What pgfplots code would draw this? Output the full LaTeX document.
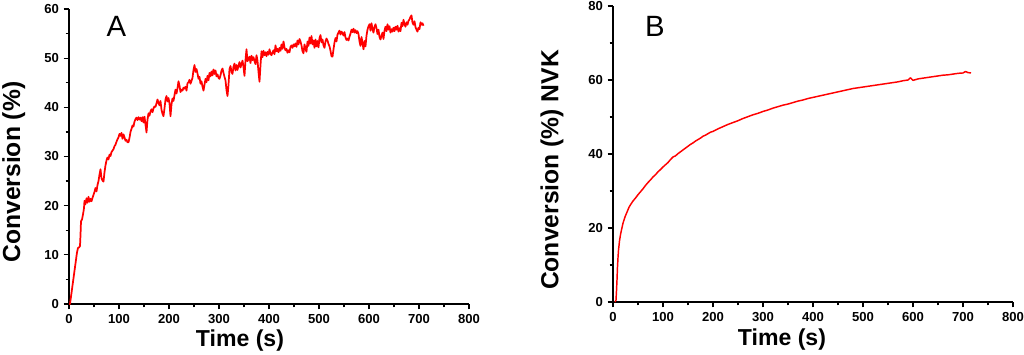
\documentclass[border=0pt]{standalone}
\usepackage{fontspec}
\setmainfont{Liberation Sans}
\usepackage{pgfplots}
\pgfplotsset{compat=1.18}
\usepackage{pgfplotstable}
\pgfplotstableread{
t v
0 0
2 0
4 1.5
6 3
8 4.5
10 6
12 7.5
14 9
16 10.5
18 11.4
20 11.5
22 11.8
23 14
24 16.8
26 17.2
28 18.2
30 19.5
31 21
33 20.3
35 21.5
37 20.6
39 21.8
41 20.8
43 21.4
45 20.9
47 21.6
49 22.2
51 22.8
53 23.6
55 22.9
57 24.2
59 25
61 26.3
63 27.4
65 25.6
67 25.1
69 24.9
71 26.8
73 28.2
75 29.2
77 29.8
79 29.4
81 30.4
83 30.1
85 30.9
87 31.2
89 31.5
91 32.1
93 32.4
95 33
97 33.5
99 33.9
101 34.6
103 34.2
105 34.8
107 33.6
109 34.5
111 33.9
113 33.2
115 33.4
117 32.9
119 32.9
121 33.8
123 35
125 35.6
127 36.3
129 36.1
131 37.1
133 37.6
135 37.9
137 37.4
139 38
141 37.5
143 37.9
145 37.2
147 38
149 36.9
151 38.1
153 36.5
155 34.9
157 37.5
159 38.8
161 38.3
163 39.2
165 39.6
167 39
169 39.8
171 40.2
173 40.1
175 40.8
177 41.6
179 40.9
181 40.4
183 41.3
185 39.5
187 38.7
189 38.2
191 39.8
193 41.6
195 42.3
197 41.2
199 41.9
201 40.8
203 38.2
205 40.6
207 41.8
209 41.3
211 42.5
213 43.6
215 42.8
217 43.9
219 45.3
221 44.4
223 43.1
225 43.6
227 43.4
229 44
231 43.8
233 44.2
235 43.4
237 44.9
239 45.1
241 45.6
243 44.8
245 45.4
247 46
249 47.6
251 48.6
253 47.2
255 47.8
257 46.9
259 45.8
261 46.2
263 44.8
265 45.3
267 44.2
269 43.4
271 44.6
273 45.8
275 45.1
277 46.4
279 45.5
281 47
283 46.3
285 47.3
287 46.5
289 47.7
291 46.8
293 47.5
295 46.3
297 46.7
299 46
301 45.8
303 46.5
305 47.5
307 47.9
309 47
311 46.2
313 45.5
315 43.5
317 42.3
319 44.6
321 47.8
323 48.4
325 47.2
327 46.8
329 48.3
331 48.9
333 47.5
335 48.6
337 47.6
339 48.5
341 49.2
343 48.1
345 48.8
347 49.5
349 48.2
351 46.4
353 49.6
355 51.8
357 49.4
359 49.8
361 50.3
363 49
365 50.5
367 49.6
369 50.2
371 49.4
373 48.8
375 50.6
377 49.5
379 47.2
381 45.2
383 48.6
385 51.4
387 50.2
389 51.5
391 50.6
393 51.2
395 50.4
397 51.3
399 50.7
401 51.8
403 50.9
405 50.6
407 51.2
409 51.6
411 50.8
413 52.6
415 51.4
417 51.9
419 51.2
421 52.1
423 51.5
425 52.8
427 51.9
429 53.4
431 52.2
433 51.6
435 51.9
437 51.1
439 51.6
441 51.2
443 52.3
445 52.6
447 52.1
449 52.8
451 52.4
453 53
455 52.3
457 53.6
459 52.8
461 53.9
463 53.4
465 52.6
467 51.4
469 51
471 52.8
473 51.9
475 51.3
477 53.4
479 52.5
481 54.2
483 53
485 54.5
487 52.8
489 53.6
491 52.1
493 53.8
495 52.4
497 53.5
499 52.2
501 54.1
503 54.7
505 53.2
507 53.8
509 52.6
511 52.1
513 53.4
515 54
517 53.6
519 52.9
521 52.4
523 51.5
525 50.4
527 50.3
529 51.8
531 53.2
533 54.1
535 53.4
537 54.8
539 55.2
541 55.6
543 54.8
545 55.4
547 55.1
549 54.6
551 55.3
553 54.2
555 53.7
557 54
559 53.6
561 54.4
563 55
565 55.8
567 55.3
569 56
571 55.2
573 55.7
575 55.1
577 55.5
579 54.9
581 53.4
583 52.5
585 54.3
587 53.1
589 51.8
591 53.5
593 52.4
595 54.6
597 55.8
599 56.5
601 56.9
603 55.6
605 57.1
607 55.9
609 55.2
611 56.4
613 56.9
615 56.1
617 54.9
619 55.8
621 54.3
623 53.8
625 54.6
627 55.2
629 53.9
631 55.6
633 56.4
635 55.5
637 56.9
639 55.8
641 56.5
643 55.2
645 55.9
647 55.4
649 56.2
651 55.5
653 56.4
655 55.8
657 56.6
659 55.4
661 56.1
663 55.5
665 57.2
667 56.5
669 57.8
671 56.9
673 56.4
675 57.3
677 56.8
679 57.6
681 57.9
683 58.4
685 58.7
687 57.2
689 56.8
691 57.5
693 56.3
695 55.8
697 55.4
699 56.2
701 55.9
703 57.3
705 56.8
707 57.1
709 56.6
}\dataA
\pgfplotstableread{
t v
4 0
6 0.5
7 3
8 6
9 9.5
10 12
11 14
13 16.5
15 18.2
17 19.5
20 21.3
24 23
28 24.3
32 25.6
36 26.5
40 27.3
45 28.1
50 29
55 29.8
60 30.6
65 31.5
70 32.3
75 33
80 33.8
85 34.4
90 35.2
95 35.8
100 36.5
105 37.1
110 37.7
115 38.5
120 39.2
125 39.5
130 40.1
135 40.6
140 41.1
145 41.6
150 42.1
155 42.6
160 43
165 43.5
170 43.9
175 44.3
180 44.8
185 45.1
190 45.5
195 45.9
200 46.1
210 46.8
220 47.4
230 48
240 48.5
250 49
260 49.6
270 50.1
280 50.6
290 51
300 51.5
310 51.9
320 52.4
330 52.8
340 53.2
350 53.5
360 53.9
370 54.3
380 54.6
390 55
400 55.3
410 55.6
420 55.9
430 56.2
440 56.5
450 56.8
460 57.1
470 57.4
480 57.7
490 57.9
500 58.1
510 58.3
520 58.5
530 58.7
540 58.9
550 59.1
560 59.3
570 59.5
580 59.8
590 60
595 60.6
600 59.9
610 60.3
620 60.5
630 60.7
640 60.9
650 61.1
660 61.3
670 61.4
680 61.6
690 61.8
700 61.9
705 62.3
710 62
716 61.9
}\dataB
\pgfplotsset{
  panel/.style={
    scale only axis,
    width=300pt,
    axis lines=left,
    axis line style={-, line width=1pt, black},
    tick align=outside,
    tick style={line width=0.9pt, black},
    major tick length=4pt,
    minor tick length=2.5pt,
    xmin=0, xmax=800,
    xtick={0,100,...,800},
    minor x tick num=1,
    minor y tick num=1,
    /pgf/number format/assume math mode=true,
    tick label style={font=\fontsize{9.8pt}{11pt}\selectfont\bfseries},
    xlabel={Time (s)},
    xlabel style={font=\fontsize{17.3pt}{20pt}\selectfont\bfseries, anchor=center},
    ylabel style={font=\fontsize{18.5pt}{22pt}\selectfont\bfseries, anchor=center},
    clip=false,
  }
}
\begin{document}
\begin{tikzpicture}
\useasboundingbox (0,0) rectangle (768pt,265.5pt);
\begin{axis}[panel,
  at={(51.75pt,37.5pt)}, anchor=origin,
  height=221.25pt,
  ymin=0, ymax=60, ytick={0,10,...,60},
  ylabel={Conversion (\%)},
  xlabel style={at={(axis description cs:0.4275,-0.125)}},
  ylabel style={at={(axis description cs:-0.138,0.447)}},
]
\addplot[red, line width=1.3pt, line join=round] table[x=t,y=v] {\dataA};
\node[font=\fontsize{22pt}{26pt}\selectfont] at (axis cs:95,56.4) {A};
\end{axis}
\begin{axis}[panel,
  at={(459.75pt,39pt)}, anchor=origin,
  height=222pt,
  ymin=0, ymax=80, ytick={0,20,...,80},
  ylabel={Conversion (\%) NVK},
  xlabel style={at={(axis description cs:0.4225,-0.128)}},
  ylabel style={at={(axis description cs:-0.1525,0.446)}},
]
\addplot[red, line width=1.1pt, line join=round] table[x=t,y=v] {\dataB};
\node[font=\fontsize{22pt}{26pt}\selectfont] at (axis cs:84,74.5) {B};
\end{axis}
\end{tikzpicture}
\end{document}
